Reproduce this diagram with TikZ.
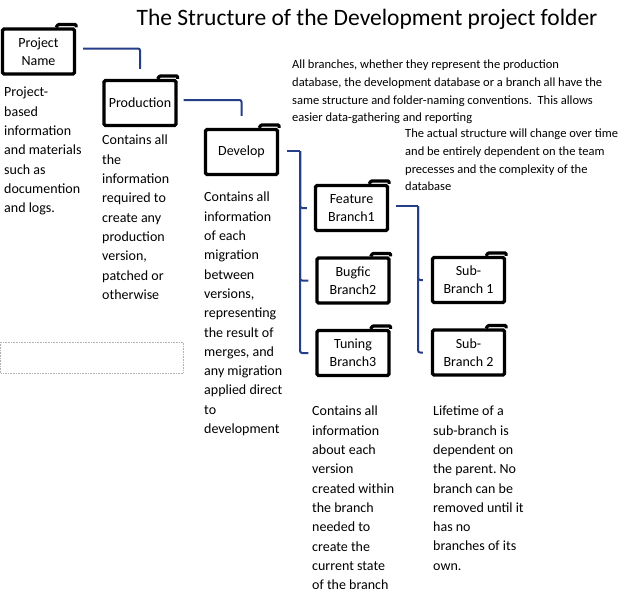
\documentclass[tikz,border=0pt]{standalone}
\usepackage{fontspec}
\setmainfont{Carlito}
\frenchspacing
\definecolor{linkblue}{RGB}{36,62,135}

\begin{document}
\begin{tikzpicture}[x=1pt,y=-1pt,
        folder/.style={draw, line width=3.2pt, rounded corners=1.5pt,
                        minimum width=72pt, minimum height=45pt, inner sep=1pt,
                        align=center, font=\fontsize{14}{18}\selectfont},
        tab/.style={line width=3.2pt, line join=round, rounded corners=1pt},
        link/.style={draw=linkblue, line width=2pt, rounded corners=2pt},
        note/.style={anchor=north west, inner sep=0pt, align=left,
                        font=\fontsize{14}{19.3}\selectfont},
        remark/.style={anchor=north west, inner sep=0pt, align=left,
                        font=\fontsize{12.5}{17.6}\selectfont}]
    \useasboundingbox (0,0) rectangle (624,595);

    \node[anchor=base, font=\fontsize{23.5}{28}\selectfont] (title) at (367,25)
        {The Structure of the Development project folder};

    % folders
    \node[folder] (proj) at (38.5,51.5) {Project\\Name};
    \node[folder] (prod) at (140,103) {Production};
    \node[folder] (dev) at (241.5,152) {Develop};
    \node[folder] (feat) at (351.5,208) {Feature\\Branch1};
    \node[folder] (bug) at (353,280.5) {Bugfic\\Branch2};
    \node[folder] (tun) at (353,353) {Tuning\\Branch3};
    \node[folder] (sub1) at (468.5,280) {Sub-\\Branch 1};
    \node[folder] (sub2) at (468.5,352.5) {Sub-\\Branch 2};
    \foreach \f in {proj,prod,dev,feat,bug,tun,sub1,sub2}
        \draw[tab] ([xshift=-20pt]\f.north east) -- ++(2pt,3pt)
            -- ([yshift=3pt]\f.north east) -- (\f.north east);

    % links
    \draw[link] ([shift={(7pt,3pt)}]proj.east) -| ([yshift=10pt]prod.north);
    \draw[link] ([shift={(6pt,3pt)}]prod.east) -| ([yshift=12pt]dev.north);
    \draw[link] ([shift={(8pt,1pt)}]dev.east) -- ++(13,0) coordinate (devbus);
    \foreach \b in {feat,bug,tun}
        \draw[link] (devbus) |- ([xshift=-7pt]\b.west);
    \draw[link] ([shift={(7pt,2pt)}]feat.east) -- ++(22,0) coordinate (featbus);
    \foreach \b in {sub1,sub2}
        \draw[link] (featbus) |- ([xshift=-8pt]\b.west);

    % texts
    \node[note] (projtxt) at (4,87) {Project-\\based\\information\\and materials\\such as\\documention\\and logs.};
    \node[note] (prodtxt) at (102,135) {Contains all\\the\\information\\required to\\create any\\production\\version,\\patched or\\otherwise};
    \node[note] (devtxt) at (204,192) {Contains all\\information\\of each\\migration\\between\\versions,\\representing\\the result of\\merges, and\\any migration\\applied direct\\to\\development};
    \node[note] (tuntxt) at (312,406) {Contains all\\information\\about each\\version\\created within\\the branch\\needed to\\create the\\current state\\of the branch};
    \node[note] (subtxt) at (433,406) {Lifetime of a\\sub-branch is\\dependent on\\the parent. No\\branch can be\\removed until it\\has no\\branches of its\\own.};
    \node[remark] (allnote) at (292,60) {All branches, whether they represent the production\\database, the development database or a branch all have the\\same structure and folder-naming conventions.\ \ This allows\\easier data-gathering and reporting};
    \node[remark] (changenote) at (405,129) {The actual structure will change over time\\and be entirely dependent on the team\\precesses and the complexity of the\\database};

    \draw[densely dotted, gray!60, line width=0.6pt] (0.5,342) rectangle (183,373);
\end{tikzpicture}
\end{document}
